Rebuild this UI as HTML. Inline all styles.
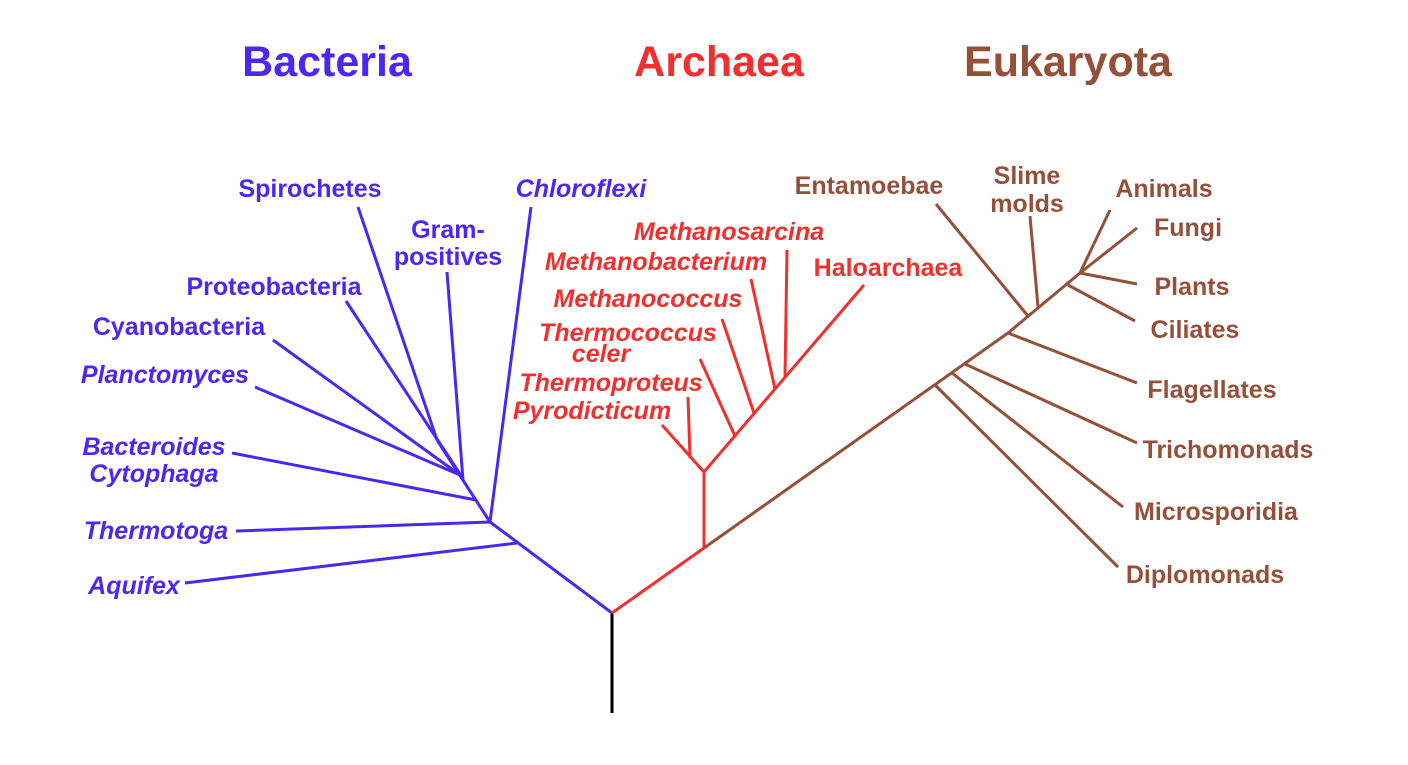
<!DOCTYPE html>
<html><head><meta charset="utf-8"><style>
html,body{margin:0;padding:0;background:#fff;}
svg{display:block;}
text{font-family:"Liberation Sans",sans-serif;font-weight:bold;font-size:25px;text-anchor:middle;}
.t{font-size:43px;}
.i{font-style:italic;}
</style></head><body>
<svg width="1408" height="765" viewBox="0 0 1408 765">
<g stroke-width="3" fill="none" stroke-linecap="butt">
<line x1="612" y1="713" x2="612" y2="613" stroke="#000"/>
<g stroke="#4b27f2">
<line x1="612" y1="613" x2="490" y2="522"/>
<line x1="185" y1="583" x2="517" y2="543"/>
<line x1="236" y1="531" x2="490" y2="522"/>
<line x1="490" y1="522" x2="531" y2="207"/>
<line x1="490" y1="522" x2="437" y2="440"/>
<line x1="463" y1="480" x2="447" y2="272"/>
<line x1="232" y1="453" x2="476" y2="500"/>
<line x1="358" y1="207" x2="437" y2="440"/>
<line x1="346" y1="301" x2="462" y2="477"/>
<line x1="273" y1="340" x2="460" y2="475"/>
<line x1="255" y1="387" x2="460" y2="475"/>
</g>
<g stroke="#f0302f">
<line x1="612" y1="613" x2="704" y2="548"/>
<line x1="704" y1="548" x2="704" y2="472"/>
<line x1="704" y1="472" x2="662" y2="425"/>
<line x1="690" y1="458" x2="688" y2="397"/>
<line x1="704" y1="472" x2="864" y2="285"/>
<line x1="735" y1="436" x2="700" y2="359"/>
<line x1="754" y1="413" x2="722" y2="319"/>
<line x1="775" y1="389" x2="751" y2="279"/>
<line x1="785" y1="377" x2="787" y2="250"/>
</g>
<g stroke="#95503a">
<line x1="704" y1="548" x2="1008" y2="333"/>
<line x1="1008" y1="333" x2="1080" y2="273"/>
<line x1="935" y1="385" x2="1118" y2="567"/>
<line x1="952" y1="373" x2="1123" y2="507"/>
<line x1="965" y1="364" x2="1137" y2="443"/>
<line x1="1008" y1="333" x2="1137" y2="383"/>
<line x1="1030" y1="216" x2="1038" y2="307"/>
<line x1="936" y1="204" x2="1028" y2="316"/>
<line x1="1068" y1="285" x2="1135" y2="321"/>
<line x1="1080" y1="273" x2="1137" y2="284"/>
<line x1="1080" y1="273" x2="1137" y2="228"/>
<line x1="1080" y1="273" x2="1110" y2="210"/>
</g>
</g>
<g fill="#4b27f2">
<text class="t" x="327" y="76">Bacteria</text>
<text x="310" y="197">Spirochetes</text>
<text x="448" y="238">Gram-</text>
<text x="448" y="265">positives</text>
<text class="i" x="581" y="197">Chloroflexi</text>
<text x="274" y="295">Proteobacteria</text>
<text x="179" y="335">Cyanobacteria</text>
<text class="i" x="165" y="383">Planctomyces</text>
<text class="i" x="154" y="455">Bacteroides</text>
<text class="i" x="154" y="482">Cytophaga</text>
<text class="i" x="156" y="539">Thermotoga</text>
<text class="i" x="134" y="594">Aquifex</text>
</g>
<g fill="#f0302f">
<text class="t" x="719" y="76">Archaea</text>
<text class="i" x="729" y="240">Methanosarcina</text>
<text class="i" x="656" y="270">Methanobacterium</text>
<text class="i" x="648" y="307">Methanococcus</text>
<text class="i" x="628" y="341">Thermococcus</text>
<text class="i" x="601" y="362">celer</text>
<text class="i" x="611" y="391">Thermoproteus</text>
<text class="i" x="592" y="419">Pyrodicticum</text>
<text x="888" y="276">Haloarchaea</text>
</g>
<g fill="#95503a">
<text class="t" x="1068" y="76">Eukaryota</text>
<text x="869" y="194">Entamoebae</text>
<text x="1027" y="184">Slime</text>
<text x="1027" y="212">molds</text>
<text x="1164" y="197">Animals</text>
<text x="1188" y="236">Fungi</text>
<text x="1192" y="295">Plants</text>
<text x="1195" y="338">Ciliates</text>
<text x="1212" y="398">Flagellates</text>
<text x="1228" y="458">Trichomonads</text>
<text x="1216" y="520">Microsporidia</text>
<text x="1205" y="583">Diplomonads</text>
</g>
</svg>
</body></html>
